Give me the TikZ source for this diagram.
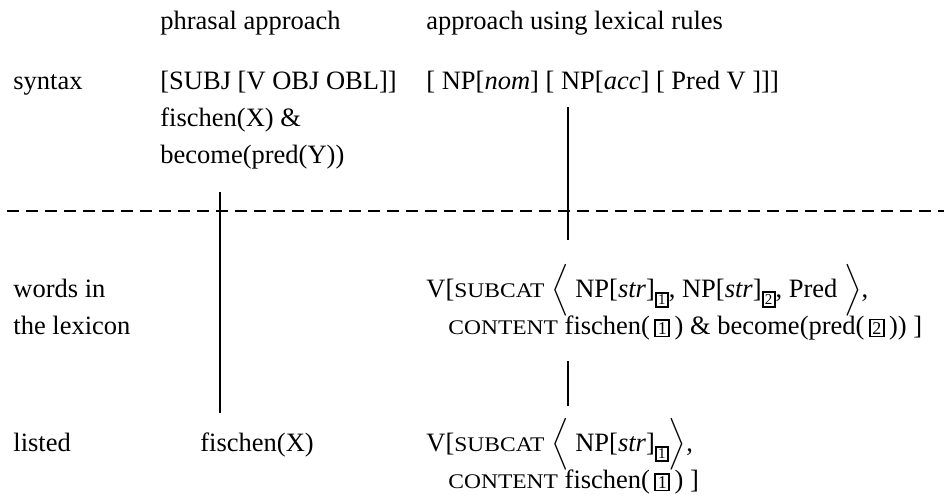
\documentclass[tikz,border=0pt]{standalone}
\usepackage{amsmath}
\usepackage{graphicx}
\usepackage{fontspec}
\setmainfont{Liberation Serif}
\usetikzlibrary{positioning, calc}
\newcommand{\lines}[1]{\begin{tabular}[t]{@{}l@{}}#1\end{tabular}}
\newcommand{\sccaps}[1]{\scalebox{1.13}[1]{\fontsize{10.4pt}{12pt}\selectfont #1}}
\newcommand{\tagbox}[1]{{\setlength{\fboxsep}{0.8pt}\setlength{\fboxrule}{0.9pt}\fbox{\fontsize{9pt}{9pt}\selectfont #1}}}
\newcommand{\subtag}[1]{\raisebox{-3.8pt}{\setlength{\fboxsep}{0.6pt}\setlength{\fboxrule}{1pt}\fbox{\fontsize{7.5pt}{7.5pt}\selectfont #1}}}
\newcommand{\lang}{\smash{$\Big\langle$}}
\newcommand{\rang}{\smash{$\Big\rangle$}}
\tikzset{
  cell/.style={anchor=base west, inner sep=0pt, font=\fontsize{13.25pt}{18.5pt}\selectfont},
  link/.style={line width=1pt},
  sep line/.style={line width=1pt, dash pattern=on 5.75pt off 3.75pt},
}

\begin{document}
\begin{tikzpicture}[x=0.5pt, y=-0.5pt]
\useasboundingbox (0,0) rectangle (944,500);
%column heads
\node[cell] (phr_head) at (160,29) {phrasal approach};
\node[cell] (lex_head) at (426,29) {approach using lexical rules};
%row labels
\node[cell] (syn_lab) at (13,89) {syntax};
\node[cell] (words_lab) at (13,297) {\lines{words in\\the lexicon}};
\node[cell] (list_lab) at (13,451) {listed};
%syntax row
\node[cell] (syn_phr) at (syn_lab.base -| phr_head.base west) {\lines{[SUBJ [V OBJ OBL]]\\fischen(X) \&\\become(pred(Y))}};
\node[cell] (syn_lex) at (syn_lab.base -| lex_head.base west) {[ NP[\textit{nom}] [ NP[\textit{acc}] [ Pred V ]]]};
%lexicon row
\node[cell] (words_lex) at (words_lab.base -| lex_head.base west) {\lines{V[\sccaps{SUBCAT} \lang{} NP[\textit{str}]\subtag{1}, NP[\textit{str}]\subtag{2}, Pred \rang,\\\hspace*{11pt}\sccaps{CONTENT} fischen(\,\tagbox{1}\,) \& become(pred(\,\tagbox{2}\,)) ]}};
%listed row
\node[cell] (list_phr) at ([xshift=20pt]list_lab.base -| phr_head.base west) {fischen(X)};
\node[cell] (list_lex) at (list_lab.base -| lex_head.base west) {\lines{V[\sccaps{SUBCAT} \lang{} NP[\textit{str}]\subtag{1}\rang,\\\hspace*{11pt}\sccaps{CONTENT} fischen(\,\tagbox{1}\,) ]}};
%line ends
\coordinate (sep_w) at (7,211);
\coordinate (sep_e) at (944,211);
\coordinate (phr_top) at (220,192);
\coordinate (phr_bot) at (220,413);
\coordinate (lex_top) at (568,107);
\coordinate (lex_mid) at (568,240);
\coordinate (lex_low) at (568,361);
\coordinate (lex_bot) at (568,406);
% separator syntax / lexicon
\draw[sep line] (sep_w) -- (sep_e);
% links
\draw[link] (phr_top) -- (phr_bot);
\draw[link] (lex_top) -- (lex_mid);
\draw[link] (lex_low) -- (lex_bot);
\end{tikzpicture}
\end{document}
